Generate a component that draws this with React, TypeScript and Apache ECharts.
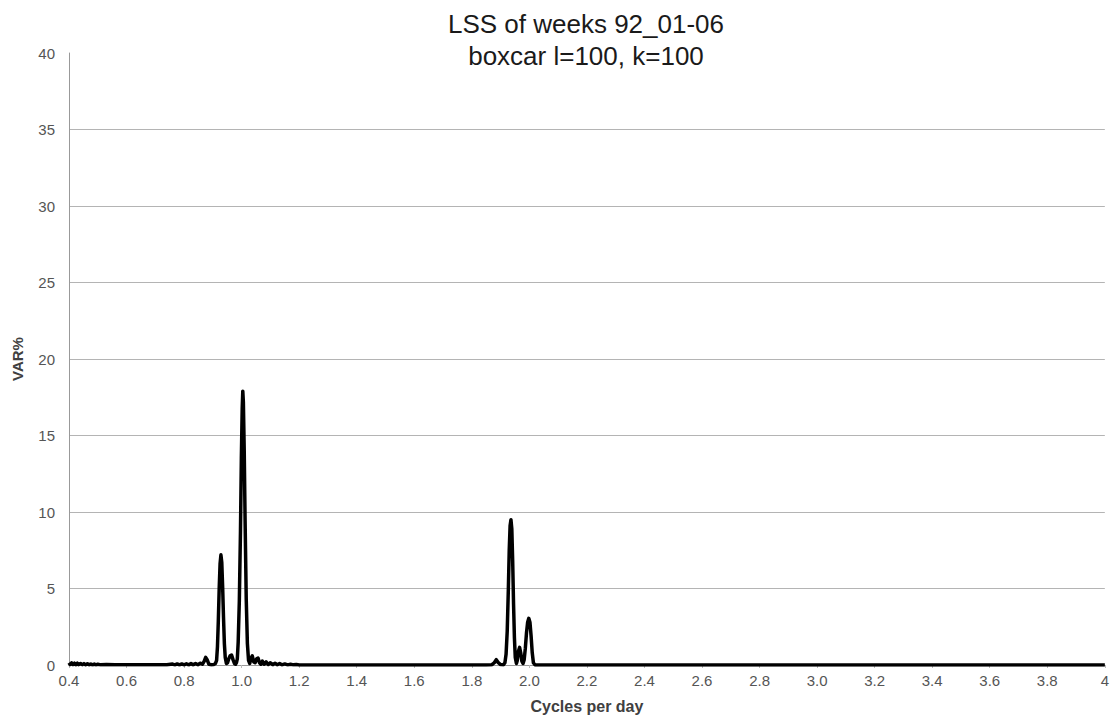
import React, { useEffect, useRef } from 'react';
import * as echarts from 'echarts';

const titleLines = ['LSS of weeks 92_01-06', 'boxcar l=100, k=100'];
const xAxisName = 'Cycles per day';
const yAxisName = 'VAR%';

const cyclesPerDay = [
  0.4, 0.404, 0.409, 0.414, 0.419, 0.424, 0.429, 0.434, 0.44, 0.446, 0.452, 0.458, 0.464, 0.47, 0.476,
  0.482, 0.488, 0.494, 0.5, 0.51, 0.53, 0.56, 0.6, 0.65, 0.7, 0.74,
  0.76, 0.768, 0.776, 0.784, 0.792, 0.8, 0.808, 0.816, 0.824, 0.832, 0.84, 0.848, 0.856, 0.864, 0.87,
  0.875, 0.88, 0.886, 0.895, 0.904, 0.909,
  0.913, 0.916, 0.919, 0.922, 0.925, 0.928, 0.931, 0.934, 0.937, 0.94, 0.943, 0.947, 0.951, 0.955, 0.96,
  0.965, 0.97, 0.975, 0.979, 0.982,
  0.985, 0.988, 0.992, 0.996, 0.999, 1.002, 1.004, 1.006, 1.009, 1.012, 1.016, 1.02, 1.024, 1.028, 1.033, 1.037,
  1.042, 1.047, 1.052, 1.057, 1.062, 1.067, 1.072, 1.078, 1.085, 1.092, 1.1, 1.108, 1.116, 1.124, 1.132,
  1.14, 1.15, 1.16, 1.17, 1.18, 1.19, 1.2, 1.3, 1.5, 1.7, 1.85, 1.87, 1.878, 1.885, 1.892, 1.9, 1.91,
  1.915, 1.919, 1.923, 1.927, 1.93, 1.933, 1.936, 1.939, 1.942, 1.945, 1.948, 1.951, 1.955, 1.958, 1.962,
  1.966, 1.97, 1.974, 1.978, 1.982, 1.986, 1.99, 1.994, 1.998, 2.002, 2.006, 2.01, 2.014, 2.02,
  2.5, 3.0, 3.5, 4.0,
];

const varPercent = [
  0.15, 0.03, 0.14, 0.02, 0.12, 0.02, 0.12, 0.02, 0.1, 0.02, 0.09, 0.01, 0.08, 0.01, 0.07,
  0.01, 0.06, 0.01, 0.05, 0.01, 0.03, 0.01, 0.02, 0.01, 0.02, 0.01,
  0.06, 0.01, 0.07, 0.01, 0.07, 0.01, 0.08, 0.01, 0.09, 0.01, 0.1, 0.02, 0.12, 0.05, 0.25,
  0.5, 0.35, 0.05, 0.02, 0.04, 0.1,
  0.3, 1.2, 2.9, 5.0, 6.6, 7.2, 6.7, 5.1, 3.1, 1.4, 0.5, 0.1, 0.15, 0.4, 0.6,
  0.65, 0.35, 0.1, 0.05, 0.15,
  0.4, 1.5, 4.2, 8.8, 13.5, 16.8, 17.9, 17.2, 14.0, 9.5, 4.3, 1.4, 0.3, 0.1, 0.45, 0.6,
  0.2, 0.15, 0.4, 0.45, 0.15, 0.05, 0.25, 0.05, 0.2, 0.03, 0.15, 0.02, 0.12, 0.02, 0.1,
  0.01, 0.07, 0.01, 0.05, 0.01, 0.03, 0.0, 0.0, 0.0, 0.0, 0.0, 0.02, 0.15, 0.35, 0.15, 0.03, 0.02,
  0.15, 0.7, 2.2, 5.0, 7.5, 9.1, 9.5, 8.9, 6.8, 4.0, 1.8, 0.5, 0.1, 0.3, 0.9,
  1.15, 0.8, 0.25, 0.1, 0.35, 1.1, 2.1, 2.8, 3.05, 2.8, 1.9, 0.8, 0.15, 0.0,
  0, 0, 0, 0,
];

const gridColors = ['transparent', '#b4b4b4', '#b4b4b4', '#b4b4b4', '#b4b4b4', '#b4b4b4', '#b4b4b4', '#b4b4b4', 'transparent'];

const FONT = '"Liberation Sans", Arial, sans-serif';

export default function App() {
  const ref = useRef<HTMLDivElement>(null);

  useEffect(() => {
    document.body.style.margin = '0';
    if (!ref.current) return;
    const chart = echarts.init(ref.current, null, { renderer: 'svg' });
    const data = cyclesPerDay.map((x, i) => [x, varPercent[i]]);
    chart.setOption({
      animation: false,
      backgroundColor: '#ffffff',
      textStyle: { fontFamily: FONT },
      graphic: [
        {
          type: 'text',
          x: 586,
          y: 24,
          style: {
            text: titleLines[0],
            align: 'center',
            verticalAlign: 'middle',
            fontSize: 26,
            fontFamily: FONT,
            fill: '#1a1a1a',
          },
        },
        {
          type: 'text',
          x: 586,
          y: 56,
          style: {
            text: titleLines[1],
            align: 'center',
            verticalAlign: 'middle',
            fontSize: 26,
            fontFamily: FONT,
            fill: '#1a1a1a',
          },
        },
      ],
      grid: { left: 69, right: 7, top: 53, bottom: 52, containLabel: false },
      xAxis: {
        type: 'value',
        min: 0.4,
        max: 4,
        interval: 0.2,
        name: xAxisName,
        nameLocation: 'middle',
        nameGap: 33,
        nameTextStyle: { fontSize: 16, fontWeight: 'bold', color: '#404040', fontFamily: FONT },
        axisLine: { show: true, lineStyle: { color: '#999999', width: 1 } },
        axisTick: { show: true, length: 3, lineStyle: { color: '#bbbbbb' } },
        axisLabel: {
          fontSize: 15,
          color: '#555555',
          margin: 8,
          showMaxLabel: true,
          showMinLabel: true,
          formatter: (v: number) => (Math.abs(v - 4) < 1e-6 ? '4' : v.toFixed(1)),
        },
        splitLine: { show: false },
      },
      yAxis: {
        type: 'value',
        min: 0,
        max: 40,
        interval: 5,
        name: yAxisName,
        nameLocation: 'middle',
        nameGap: 44,
        nameTextStyle: { fontSize: 15, fontWeight: 'bold', color: '#404040', fontFamily: FONT },
        axisLine: { show: true, lineStyle: { color: '#999999', width: 1 } },
        axisTick: { show: false },
        axisLabel: { fontSize: 15, color: '#555555', margin: 14 },
        splitLine: { show: true, lineStyle: { color: gridColors, width: 1 } },
      },
      series: [
        {
          type: 'line',
          data,
          showSymbol: false,
          symbol: 'none',
          smooth: false,
          lineStyle: { color: '#000000', width: 3.5, join: 'round' },
          z: 5,
        },
      ],
    });
    return () => chart.dispose();
  }, []);

  return <div ref={ref} style={{ width: 1112, height: 719 }} />;
}
